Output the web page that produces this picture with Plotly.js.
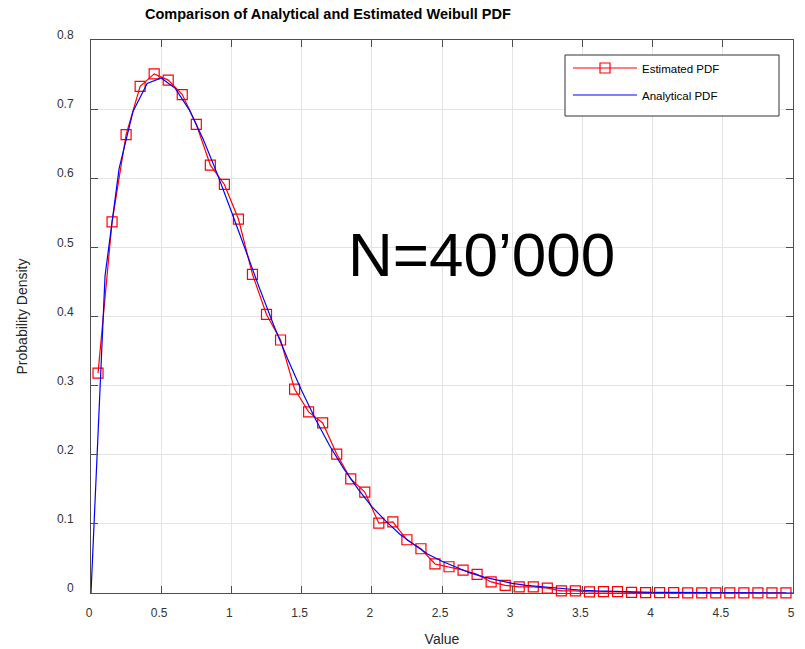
<!DOCTYPE html>
<html>
<head>
<meta charset="utf-8">
<script src="https://cdn.plot.ly/plotly-3.0.1.min.js"></script>
<style>
  html, body { margin: 0; padding: 0; background: #ffffff; }
  #chart { width: 805px; height: 649px; }
</style>
</head>
<body>
<div id="chart"></div>
<script>
// Histogram-based density estimate: bin centres and densities
const estX = [0.05, 0.15, 0.25, 0.35, 0.45, 0.55, 0.65, 0.75, 0.85, 0.95,
              1.05, 1.15, 1.25, 1.35, 1.45, 1.55, 1.65, 1.75, 1.85, 1.95,
              2.05, 2.15, 2.25, 2.35, 2.45, 2.55, 2.65, 2.75, 2.85, 2.95,
              3.05, 3.15, 3.25, 3.35, 3.45, 3.55, 3.65, 3.75, 3.85, 3.95,
              4.05, 4.15, 4.25, 4.35, 4.45, 4.55, 4.65, 4.75, 4.85, 4.95];
const estY = [0.318, 0.537, 0.663, 0.733, 0.751, 0.742, 0.721, 0.678, 0.619, 0.591,
              0.541, 0.461, 0.403, 0.366, 0.295, 0.262, 0.246, 0.201, 0.165, 0.146,
              0.101, 0.103, 0.077, 0.064, 0.042, 0.038, 0.033, 0.027, 0.016, 0.011,
              0.009, 0.009, 0.007, 0.003, 0.003, 0.0015, 0.002, 0.002, 0.001, 0.0006,
              0.0005, 0.0004, 0.0003, 0.0003, 0.0002, 0.0002, 0.0001, 0.0001, 0.0001, 0.0001];

// Analytical Weibull density sampled on a 0.1 grid
const anaX = [0.0, 0.1, 0.2, 0.3, 0.4, 0.5, 0.6, 0.7, 0.8, 0.9,
              1.0, 1.1, 1.2, 1.3, 1.4, 1.5, 1.6, 1.7, 1.8, 1.9,
              2.0, 2.1, 2.2, 2.3, 2.4, 2.5, 2.6, 2.7, 2.8, 2.9,
              3.0, 3.1, 3.2, 3.3, 3.4, 3.5, 3.6, 3.7, 3.8, 3.9,
              4.0, 4.1, 4.2, 4.3, 4.4, 4.5, 4.6, 4.7, 4.8, 4.9, 5.0];
const anaY = [0.000, 0.459, 0.614, 0.697, 0.737, 0.745, 0.730, 0.699, 0.656, 0.606,
              0.552, 0.496, 0.441, 0.388, 0.339, 0.293, 0.251, 0.213, 0.180, 0.151,
              0.125, 0.104, 0.085, 0.070, 0.056, 0.046, 0.037, 0.029, 0.023, 0.018,
              0.014, 0.011, 0.009, 0.007, 0.005, 0.004, 0.003, 0.0023, 0.0018, 0.0013,
              0.0010, 0.0008, 0.0006, 0.0004, 0.0003, 0.0002, 0.0002, 0.0001, 0.0001, 0.0001, 0.0000];

const xTicks = [0, 0.5, 1, 1.5, 2, 2.5, 3, 3.5, 4, 4.5, 5];
const yTicks = [0, 0.1, 0.2, 0.3, 0.4, 0.5, 0.6, 0.7, 0.8];

const sampleLabel = 'N=40’000';

const FONT = 'Liberation Sans, Arial, Helvetica, sans-serif';
const AXIS_COLOR = '#4d4d4d';
const GRID_COLOR = '#e3e3e3';

const traces = [
  {
    x: estX, y: estY,
    type: 'scatter', mode: 'lines+markers',
    name: 'Estimated PDF', legendgroup: 'est',
    cliponaxis: false,
    line: { color: '#ff0000', width: 1.2 },
    marker: { symbol: 'square-open', size: 10, color: '#ff0000', line: { width: 1.2, color: '#ff0000' } }
  },
  {
    x: anaX, y: anaY,
    type: 'scatter', mode: 'lines',
    name: 'Analytical PDF', legendgroup: 'ana',
    cliponaxis: false,
    line: { color: '#0000ff', width: 1.2 }
  }
];

const axisCommon = {
  showline: true, linecolor: AXIS_COLOR, linewidth: 1,
  mirror: 'ticks', ticks: 'inside', ticklen: 7, tickwidth: 1, tickcolor: AXIS_COLOR,
  showgrid: true, gridcolor: GRID_COLOR, gridwidth: 1,
  zeroline: false,
  tickfont: { family: FONT, size: 12, color: '#333333' }
};

const layout = {
  width: 805, height: 649,
  paper_bgcolor: '#ffffff', plot_bgcolor: '#ffffff',
  margin: { l: 91, r: 12, t: 40, b: 56, autoexpand: false },
  font: { family: FONT, color: '#262626' },
  title: {
    text: '<b>Comparison of Analytical and Estimated Weibull PDF</b>',
    font: { family: FONT, size: 14.5, color: '#000000' },
    xref: 'container', yref: 'container',
    x: 145 / 805, xanchor: 'left',
    y: 1 - 14 / 649, yanchor: 'middle'
  },
  xaxis: Object.assign({}, axisCommon, {
    range: [0, 5], tickvals: xTicks, ticklabelstandoff: 9, ticklabelshift: -2,
    title: { text: 'Value', font: { family: FONT, size: 14, color: '#262626' }, standoff: 14 }
  }),
  yaxis: Object.assign({}, axisCommon, {
    range: [0, 0.8], tickvals: yTicks, ticklabelstandoff: 14, ticklabelshift: -5,
    title: { text: 'Probability Density', font: { family: FONT, size: 14, color: '#262626' }, standoff: 26 }
  }),
  showlegend: true,
  legend: {
    x: 568 / 805, xanchor: 'left', xref: 'container',
    y: 1 - 53.5 / 649, yanchor: 'top', yref: 'container',
    bgcolor: 'rgba(0,0,0,0)', borderwidth: 0,
    itemwidth: 64, tracegroupgap: 8,
    font: { family: FONT, size: 11.5, color: '#000000' }
  },
  shapes: [
    {
      type: 'rect', xref: 'paper', yref: 'paper', layer: 'above',
      x0: (565 - 91) / 702, x1: (779 - 91) / 702,
      y0: (593 - 116) / 553, y1: (593 - 55) / 553,
      line: { color: '#333333', width: 1 }, fillcolor: '#ffffff'
    }
  ],
  annotations: [
    {
      text: sampleLabel, x: 2.78, y: 0.489, xref: 'x', yref: 'y',
      showarrow: false, xanchor: 'center', yanchor: 'middle',
      font: { family: FONT, size: 62, color: '#000000' }
    }
  ]
};

Plotly.newPlot('chart', traces, layout, { displayModeBar: false, staticPlot: true });
</script>
</body>
</html>
